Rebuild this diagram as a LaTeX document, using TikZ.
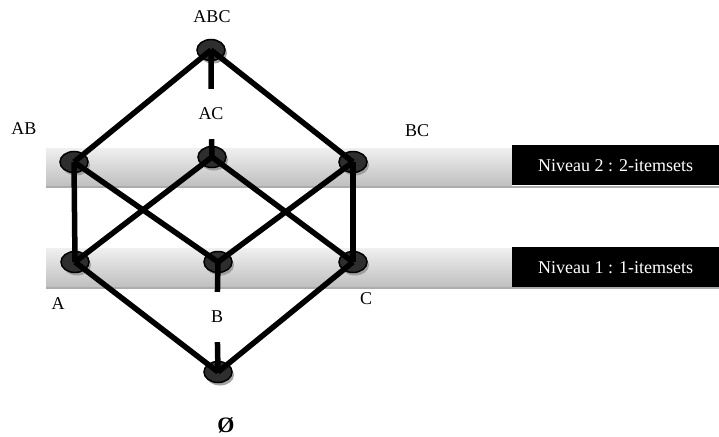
\documentclass[tikz,border=0pt]{standalone}
\usepackage{fontspec}
\setmainfont{Liberation Serif}
\usetikzlibrary{shapes.geometric,shadows}
\tikzset{
  itemset/.style={ellipse, minimum width=28pt, minimum height=21pt, inner sep=0pt,
    fill=black!82, draw=black, line width=1.5pt,
    drop shadow={shadow xshift=2pt, shadow yshift=-3pt, fill=black!40, opacity=0.9}},
  lbl/.style={inner sep=0pt, font=\fontsize{18}{20}\selectfont},
  gaplbl/.style={lbl, minimum height=50pt},
  edge/.style={line width=5.5pt},
  band/.style={top color=gray!12, bottom color=gray!50},
  bandedge/.style={gray!65, line width=2.5pt},
  levelbox/.style={fill=black, text=white, anchor=north west, minimum width=207pt,
    minimum height=40pt, inner sep=0pt, font=\fontsize{18}{20}\selectfont}
}
\begin{document}
\begin{tikzpicture}[x=1pt,y=-1pt]
\useasboundingbox (0,0) rectangle (719,436);
% niveaux
\shade[band] (46,148) rectangle (512,186);
\draw[bandedge] (46,187) -- (719,187);
\node[levelbox] (lvl2) at (512,145) {Niveau 2 : 2-itemsets};
\shade[band] (46,248) rectangle (512,287);
\draw[bandedge] (46,288) -- (719,288);
\node[levelbox] (lvl1) at (512,247) {Niveau 1 : 1-itemsets};
% itemsets
\node[itemset] (ABC) at (211,50) {};
\node[itemset] (AB) at (74,162) {};
\node[itemset] (AC) at (212,157) {};
\node[itemset] (BC) at (353,162) {};
\node[itemset] (A) at (75,262) {};
\node[itemset] (B) at (218,262) {};
\node[itemset] (C) at (353,262) {};
\node[itemset] (empty) at (218,372) {};
% labels
\node[lbl] (lABC) at (212,17) {ABC};
\node[gaplbl] (lAC) at (211,114) {AC};
\node[lbl] (lAB) at (24,129) {AB};
\node[lbl] (lBC) at (417,131) {BC};
\node[lbl] (lA) at (58,304) {A};
\node[gaplbl] (lB) at (217,317) {B};
\node[lbl] (lC) at (366,299) {C};
\node[inner sep=0pt, font=\fontsize{22}{24}\selectfont\bfseries] (lempty) at (226,425) {Ø};
% liens
\draw[edge] (ABC.center) -- (AB.center);
\draw[edge] (ABC.center) -- (BC.center);
\draw[edge] (ABC.center) -- (lAC) -- (AC.center);
\draw[edge] (AB.center) -- (A.center);
\draw[edge] (AB.center) -- (B.center);
\draw[edge] (AC.center) -- (A.center);
\draw[edge] (AC.center) -- (C.center);
\draw[edge] (BC.center) -- (B.center);
\draw[edge] (BC.center) -- (C.center);
\draw[edge] (A.center) -- (empty.center);
\draw[edge] (C.center) -- (empty.center);
\draw[edge] (B.center) -- (lB) -- (empty.center);
\end{tikzpicture}
\end{document}
